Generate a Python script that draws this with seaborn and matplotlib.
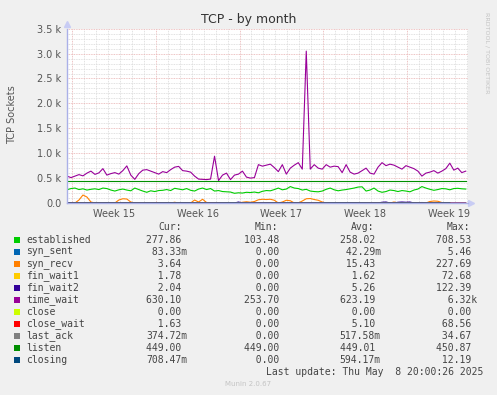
import numpy as np
import pandas as pd
import seaborn as sns
import matplotlib.pyplot as plt
from matplotlib.patches import Rectangle

# sampled every 8 hours, x = days since Monday of Week 15
t_start = -0.42
days = t_start + np.arange(101) / 3.0

time_wait = [540, 510, 540, 570, 545, 600, 640, 575, 605, 690,
             560, 590, 610, 580, 650, 745, 560, 475, 590, 660,
             670, 640, 610, 580, 630, 610, 670, 720, 735, 650,
             640, 620, 540, 480, 475, 470, 480, 940, 450, 560,
             600, 470, 560, 580, 640, 520, 500, 510, 770, 740,
             760, 780, 710, 630, 770, 580, 700, 760, 810, 680,
             3050, 680, 770, 700, 680, 770, 720, 740, 730, 610,
             770, 620, 580, 600, 650, 700, 600, 580, 720, 810,
             750, 780, 760, 720, 680, 750, 720, 690, 640, 540,
             600, 620, 650, 600, 640, 690, 800, 660, 700, 610, 640]

established = [265, 290, 300, 270, 285, 260, 275, 285, 270, 300,
               290, 260, 240, 265, 280, 260, 245, 300, 270, 240,
               215, 245, 230, 250, 255, 270, 250, 295, 280, 265,
               290, 255, 240, 280, 300, 270, 290, 240, 250, 230,
               225, 220, 195, 205, 200, 215, 210, 220, 205, 235,
               250, 245, 270, 300, 265, 280, 330, 300, 290, 260,
               275, 240, 230, 225, 240, 275, 300, 265, 245, 260,
               270, 285, 300, 320, 325, 240, 260, 300, 240, 215,
               230, 260, 250, 230, 250, 240, 225, 260, 280, 330,
               300, 275, 255, 270, 290, 285, 265, 290, 295, 285, 280]

syn_recv = [0, 0, 0, 60, 160, 120, 20, 0, 0, 0,
            0, 0, 0, 60, 85, 80, 20, 0, 0, 0,
            0, 0, 0, 0, 0, 0, 0, 15, 0, 0,
            0, 0, 60, 20, 75, 10, 0, 0, 0, 0,
            0, 0, 0, 0, 15, 25, 15, 30, 65, 75,
            70, 75, 55, 0, 20, 55, 45, 0, 0, 40,
            85, 90, 70, 55, 20, 0, 0, 0, 0, 0,
            0, 0, 0, 0, 0, 0, 0, 0, 0, 0,
            0, 0, 20, 0, 0, 0, 0, 0, 0, 0,
            0, 30, 40, 35, 10, 0, 0, 0, 0, 0, 0]

fin_wait2 = [0, 0, 0, 0, 0, 0, 0, 0, 0, 0,
             0, 0, 0, 0, 0, 0, 0, 0, 0, 0,
             0, 0, 0, 0, 0, 0, 0, 0, 0, 0,
             0, 0, 0, 0, 0, 0, 0, 0, 0, 0,
             0, 0, 0, 20, 0, 0, 0, 0, 0, 0,
             0, 0, 0, 0, 0, 0, 0, 0, 0, 0,
             0, 0, 0, 0, 0, 0, 0, 0, 0, 0,
             0, 0, 0, 0, 0, 0, 0, 0, 0, 15,
             20, 0, 0, 15, 20, 15, 20, 0, 0, 10,
             0, 0, 0, 0, 0, 0, 0, 0, 0, 0, 0]

listen = [449.0] * 101

# the quiet states, read on a 2-day grid
days_coarse = t_start + np.arange(0, 34, 2)
syn_sent = [0, 0, 0, 0, 0, 0, 0, 0, 0, 0, 0, 0, 0, 0, 0, 0, 0]
fin_wait1 = [2, 1, 2, 1, 2, 2, 1, 2, 1, 2, 2, 1, 2, 1, 2, 2, 2]
close = [0, 0, 0, 0, 0, 0, 0, 0, 0, 0, 0, 0, 0, 0, 0, 0, 0]
close_wait = [5, 6, 4, 5, 5, 6, 5, 4, 5, 6, 5, 5, 4, 6, 5, 5, 2]
last_ack = [0, 1, 0, 1, 0, 1, 0, 1, 0, 1, 0, 1, 0, 1, 0, 1, 0]
closing = [1, 0, 1, 0, 1, 1, 0, 1, 0, 1, 0, 1, 1, 0, 1, 0, 1]

states = ["established", "syn_sent", "syn_recv", "fin_wait1", "fin_wait2",
          "time_wait", "close", "close_wait", "last_ack", "listen", "closing"]
colors = ["#00CC00", "#0066B3", "#FF8000", "#FFCC00", "#330099",
          "#990099", "#CCFF00", "#FF0000", "#808080", "#008F00", "#00487D"]

cur_vals = ["277.86 ", " 83.33m", "  3.64 ", "  1.78 ", "  2.04 ", "630.10 ",
            "  0.00 ", "  1.63 ", "374.72m", "449.00 ", "708.47m"]
min_vals = ["103.48 ", "  0.00 ", "  0.00 ", "  0.00 ", "  0.00 ", "253.70 ",
            "  0.00 ", "  0.00 ", "  0.00 ", "449.00 ", "  0.00 "]
avg_vals = ["258.02 ", " 42.29m", " 15.43 ", "  1.62 ", "  5.26 ", "623.19 ",
            "  0.00 ", "  5.10 ", "517.58m", "449.01 ", "594.17m"]
max_vals = ["708.53 ", "  5.46 ", "227.69 ", " 72.68 ", "122.39 ", "  6.32k",
            "  0.00 ", " 68.56 ", " 34.67 ", "450.87 ", " 12.19 "]

series = {
    "established": (days, established), "syn_sent": (days_coarse, syn_sent),
    "syn_recv": (days, syn_recv), "fin_wait1": (days_coarse, fin_wait1),
    "fin_wait2": (days, fin_wait2), "time_wait": (days, time_wait),
    "close": (days_coarse, close), "close_wait": (days_coarse, close_wait),
    "last_ack": (days_coarse, last_ack), "listen": (days, listen),
    "closing": (days_coarse, closing),
}
frames = [pd.DataFrame({"day": x, "sockets": np.asarray(y, dtype=float), "state": s})
          for s, (x, y) in series.items()]
df = pd.concat(frames, ignore_index=True)

W, H = 497, 395
fig = plt.figure(figsize=(W / 100, H / 100), dpi=100, facecolor="#F0F0F0")
ax = fig.add_axes([67 / W, 1 - 203 / H, (468 - 67) / W, (203 - 28.7) / H])
ax.set_facecolor("white")

x0, x1 = t_start, 33.1
ax.set_xlim(x0, x1)
ax.set_ylim(0, 3500)

# grid
for d in range(0, 34):
    c = "#e8b0b0" if d % 7 == 0 else "#d8d8d8"
    ax.axvline(d, color=c, lw=0.6, ls=(0, (1, 1)), zorder=0)
for v in range(100, 3600, 100):
    c = "#e8b0b0" if v % 500 == 0 else "#d8d8d8"
    ax.axhline(v, color=c, lw=0.6, ls=(0, (1, 1)), zorder=0)

sns.lineplot(data=df, x="day", y="sockets", hue="state", hue_order=states,
             palette=dict(zip(states, colors)), estimator=None, legend=False,
             linewidth=0.8, ax=ax)

ax.set_xticks([3.5, 10.5, 17.5, 24.5, 31.5])
ax.set_xticklabels(["Week 15", "Week 16", "Week 17", "Week 18", "Week 19"])
ax.set_yticks(range(0, 3501, 500))
ax.set_yticklabels(["0.0"] + ["%.1f k" % (v / 1000) for v in range(500, 3501, 500)])
ax.tick_params(length=0, labelsize=7, colors="#555555", pad=4)
ax.set_xlabel("")
ax.set_ylabel("")

for s in ["top", "right"]:
    ax.spines[s].set_visible(False)
for s in ["left", "bottom"]:
    ax.spines[s].set_color("#aab0e8")
    ax.spines[s].set_linewidth(1.0)
    ax.spines[s].set_zorder(5)
ax.plot([0], [1.025], marker="^", ms=4, color="#c8ccf4", transform=ax.transAxes, clip_on=False)
ax.plot([1.008], [0], marker=">", ms=4, color="#c8ccf4", transform=ax.transAxes, clip_on=False)

fig.text(0.5, 1 - 19 / H, "TCP - by month", ha="center", va="center",
         fontsize=9, color="#333333")
fig.text(12 / W, 1 - 115 / H, "TCP Sockets", rotation=90, ha="center", va="center",
         fontsize=7, color="#555555")
fig.text(487 / W, 1 - 53 / H, "RRDTOOL / TOBI OETIKER", rotation=270, ha="center",
         va="center", fontsize=4.6, color="#c4c4c4")

# legend table
mono = "DejaVu Sans Mono"
hy = 227.3
for lbl, xr in [("Cur:", 181.7), ("Min:", 278.3), ("Avg:", 374.3), ("Max:", 470.0)]:
    fig.text(xr / W, 1 - hy / H, lbl, ha="right", va="center", family=mono,
             fontsize=7, color="#444444")
for i, st in enumerate(states):
    y = 239.7 + 12 * i
    fig.patches.append(Rectangle((14 / W, 1 - (y + 3) / H), 6 / W, 6 / H,
                                 transform=fig.transFigure, facecolor=colors[i],
                                 edgecolor="none"))
    fig.text(26 / W, 1 - y / H, st, ha="left", va="center", family=mono,
             fontsize=7, color="#444444")
    for vals, xl in [(cur_vals, 146.5), (min_vals, 243.5), (avg_vals, 339.5), (max_vals, 435.5)]:
        fig.text(xl / W, 1 - y / H, vals[i], ha="left", va="center", family=mono,
                 fontsize=7, color="#444444")

fig.text(483 / W, 1 - 371.7 / H, "Last update: Thu May  8 20:00:26 2025", ha="right",
         va="center", family=mono, fontsize=7, color="#444444")
fig.text(248 / W, 1 - 384 / H, "Munin 2.0.67", ha="center", va="center",
         fontsize=5, color="#c4c4c4")

fig.savefig("out.png", dpi=100, facecolor=fig.get_facecolor())
